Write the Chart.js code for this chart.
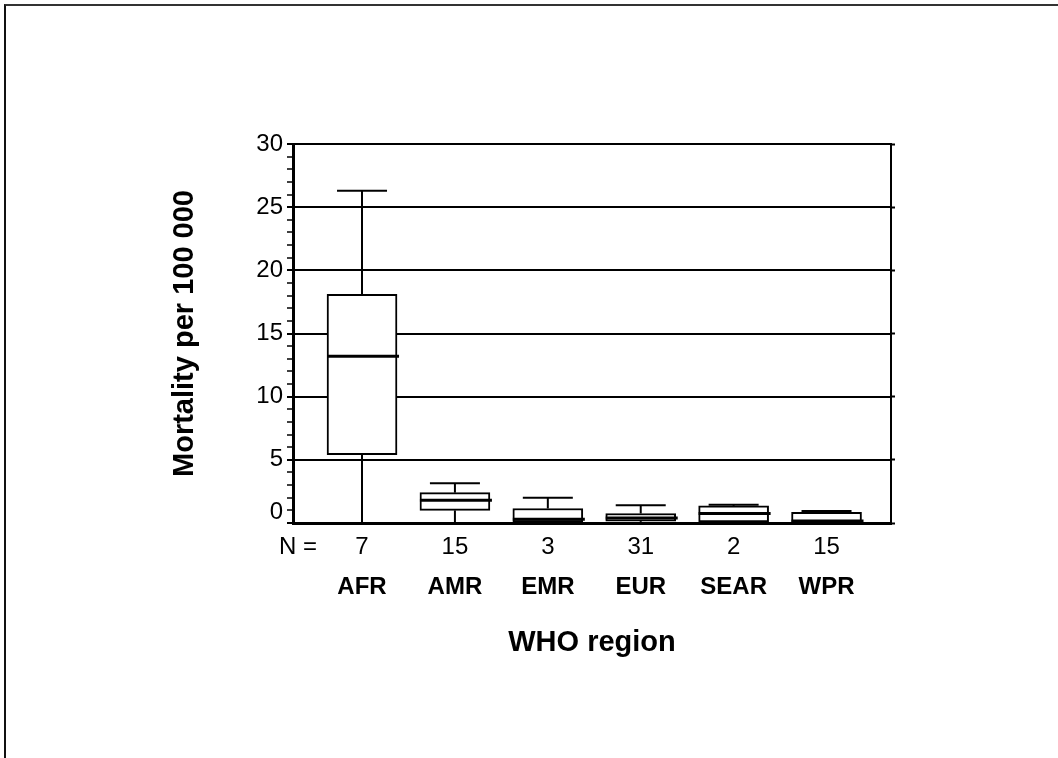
<!DOCTYPE html>
<html>
<head>
<meta charset="utf-8">
<script src="https://cdn.jsdelivr.net/npm/chart.js@4.4.1/dist/chart.umd.min.js"></script>
<style>
  html, body { margin: 0; padding: 0; background: #fff; }
  .sheet {
    position: absolute; left: 4px; top: 4px; width: 1100px; height: 800px;
    border-top: 2px solid #333; border-left: 2px solid #111;
  }
  #wrap { position: absolute; left: 0; top: 0; width: 1058px; height: 758px; }
</style>
</head>
<body>
<div class="sheet"></div>
<div id="wrap"><canvas id="chart" width="1058" height="758"></canvas></div>
<script>
// Mortality per 100 000 by WHO region (box-and-whisker summary)
const regions = ['AFR', 'AMR', 'EMR', 'EUR', 'SEAR', 'WPR'];
const counts = [7, 15, 3, 31, 2, 15];
const lowest = [0, 0, 0, 0, 0, 0];
const lowerQuartile = [5.4, 1.0, 0, 0.15, 0, 0];
const median = [13.2, 1.8, 0.3, 0.4, 0.75, 0.15];
const upperQuartile = [18.1, 2.4, 1.15, 0.75, 1.35, 0.85];
const highest = [26.3, 3.15, 2.0, 1.4, 1.45, 0.95];
const yLabels = [0, 5, 10, 15, 20, 25, 30];

const FONT = "'Liberation Sans', Arial, sans-serif";
const X_MIN = -0.743;
const X_MAX = 5.694;
const N_LABEL_AT = -0.69;

Chart.defaults.font.family = FONT;
Chart.defaults.color = '#000';

// whiskers, caps and median bars on top of the floating-bar boxes
const whiskers = {
  id: 'whiskers',
  afterDatasetsDraw(chart) {
    const { ctx, scales: { x, y } } = chart;
    const line = (x0, y0, x1, y1, w) => {
      ctx.lineWidth = w;
      ctx.beginPath();
      ctx.moveTo(x0, y0);
      ctx.lineTo(x1, y1);
      ctx.stroke();
    };
    ctx.save();
    ctx.strokeStyle = '#000';
    regions.forEach((r, i) => {
      const cx = x.getPixelForValue(i);
      const yMax = y.getPixelForValue(highest[i]);
      const yMin = y.getPixelForValue(lowest[i]);
      const yQ3 = y.getPixelForValue(upperQuartile[i]);
      const yQ1 = y.getPixelForValue(lowerQuartile[i]);
      const yMed = y.getPixelForValue(median[i]);
      line(cx, yQ3, cx, yMax, 2);
      line(cx - 25, yMax, cx + 25, yMax, 2);
      line(cx, yQ1, cx, yMin, 2);
      line(cx - 25, yMin, cx + 25, yMin, 2);
      line(cx - 35, yMed, cx + 37, yMed, 3);
    });
    ctx.restore();
  }
};

new Chart(document.getElementById('chart'), {
  type: 'bar',
  data: {
    datasets: [{
      data: regions.map((r, i) => ({ x: i, y: [lowerQuartile[i], upperQuartile[i]] })),
      backgroundColor: '#fff',
      borderColor: '#000',
      borderWidth: 2,
      borderSkipped: false,
      barThickness: 70,
    }],
  },
  options: {
    responsive: false,
    animation: false,
    layout: { padding: { left: 168, top: 144, right: 157, bottom: 78 } },
    plugins: { legend: { display: false }, tooltip: { enabled: false } },
    scales: {
      x: {
        type: 'linear',
        position: 'bottom',
        weight: 1,
        offset: false,
        min: X_MIN,
        max: X_MAX,
        afterBuildTicks: s => {
          s.ticks = [{ value: N_LABEL_AT }].concat(regions.map((r, i) => ({ value: i })));
        },
        afterFit: s => { s.height = 40; },
        grid: { display: false, offset: false },
        border: { display: true, color: '#000', width: 3 },
        ticks: {
          autoSkip: false,
          maxRotation: 0,
          padding: 2,
          font: { size: 24 },
          callback: (v, idx) => (idx === 0 ? 'N =' : String(counts[idx - 1])),
        },
      },
      x2: {
        type: 'linear',
        position: 'bottom',
        weight: 2,
        offset: false,
        min: X_MIN,
        max: X_MAX,
        afterBuildTicks: s => {
          s.ticks = regions.map((r, i) => ({ value: i }));
        },
        afterFit: s => { s.height = 117; },
        grid: { display: false, offset: false },
        border: { display: false },
        ticks: {
          autoSkip: false,
          maxRotation: 0,
          padding: 2,
          font: { size: 24, weight: 'bold' },
          callback: (v, idx) => regions[idx],
        },
        title: {
          display: true,
          text: 'WHO region',
          font: { size: 29, weight: 'bold' },
          padding: { top: 0, bottom: 20 },
        },
      },
      y: {
        min: 0,
        max: 30,
        afterFit: s => { s.width = 125; },
        grid: {
          color: c => (c.tick && c.tick.value % 5 === 0 && c.tick.value > 0 ? '#000' : 'rgba(0,0,0,0)'),
          lineWidth: 2,
          tickColor: '#000',
          tickLength: 6,
          tickWidth: c => (c.tick && c.tick.value % 5 === 0 ? 2 : 1.5),
        },
        border: { color: '#000', width: 3 },
        ticks: {
          stepSize: 1,
          autoSkip: false,
          padding: 4,
          font: { size: 24, lineHeight: 0.9 },
          // the zero label sits half a line above the axis line
          callback: v => (yLabels.includes(v) ? (v === 0 ? ['0', ''] : String(v)) : ''),
        },
        title: {
          display: true,
          text: 'Mortality per 100 000',
          font: { size: 29, weight: 'bold' },
          padding: 0,
        },
      },
      y2: {
        position: 'right',
        min: 0,
        max: 30,
        afterFit: s => { s.width = 10; },
        grid: { drawOnChartArea: false, tickLength: 4, tickColor: '#000', tickWidth: 2 },
        border: { color: '#000', width: 2 },
        ticks: { stepSize: 5, display: false },
      },
    },
  },
  plugins: [whiskers],
});
</script>
</body>
</html>
